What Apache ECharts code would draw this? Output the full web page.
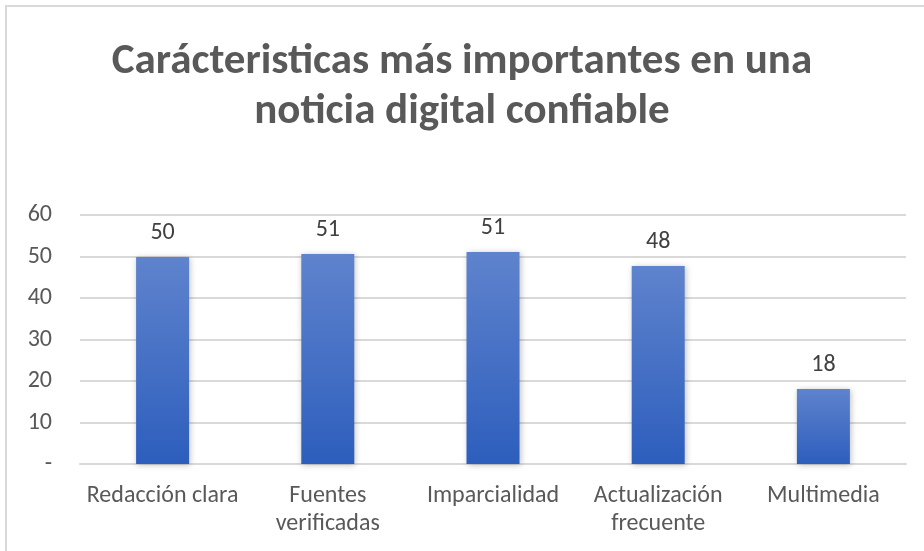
<!DOCTYPE html>
<html>
<head>
<meta charset="utf-8">
<script src="https://cdn.jsdelivr.net/npm/echarts@6/dist/echarts.min.js"></script>
<style>
  html, body { margin: 0; padding: 0; background: #fff; }
  #frame { position: absolute; left: 5px; top: 5px; width: 930px; height: 560px; border: 2px solid #d9d9d9; box-sizing: border-box; }
  #main { width: 924px; height: 551px; position: absolute; left: 0; top: 0; }
</style>
</head>
<body>
<div id="frame"></div>
<div id="main"></div>
<script>
var categories = ['Redacción clara', 'Fuentes\nverificadas', 'Imparcialidad', 'Actualización\nfrecuente', 'Multimedia'];
var values = [49.9, 50.6, 51.1, 47.7, 18.1];
var yTicks = [0, 10, 20, 30, 40, 50, 60];

var font = "Carlito, 'Liberation Sans Narrow', 'Open Sans', sans-serif";
var myChart = echarts.init(document.getElementById('main'));

var option = {
    animation: false,
    title: {
        text: 'Carácteristicas más importantes en una\nnoticia digital confiable',
        left: 'center',
        top: 32,
        textStyle: {
            fontFamily: font,
            fontSize: 43,
            fontWeight: 'bold',
            color: '#595959',
            lineHeight: 50
        }
    },
    grid: {
        left: 80,
        right: 18,
        top: 215,
        bottom: 87,
        containLabel: false
    },
    xAxis: {
        type: 'category',
        data: categories,
        axisLine: { lineStyle: { color: '#d9d9d9', width: 2 } },
        axisTick: { show: false },
        axisLabel: {
            color: '#595959',
            fontFamily: font,
            fontSize: 24,
            lineHeight: 28,
            margin: 18,
            interval: 0
        }
    },
    yAxis: {
        type: 'value',
        min: yTicks[0],
        max: yTicks[yTicks.length - 1],
        interval: 10,
        axisLine: { show: false },
        axisTick: { show: false },
        splitLine: { lineStyle: { color: '#d9d9d9', width: 2 } },
        axisLabel: {
            color: '#595959',
            fontFamily: font,
            fontSize: 24,
            margin: 28,
            formatter: function (v) { return v === 0 ? '-' : v; }
        }
    },
    series: [
        {
            type: 'bar',
            data: values,
            barWidth: 53,
            itemStyle: {
                color: new echarts.graphic.LinearGradient(0, 0, 0, 1, [
                    { offset: 0, color: '#5f83cd' },
                    { offset: 1, color: '#2d5ebd' }
                ]),
                shadowBlur: 6,
                shadowColor: 'rgba(0,0,0,0.25)',
                shadowOffsetX: 1,
                shadowOffsetY: 1
            },
            label: {
                show: true,
                position: 'top',
                distance: 12,
                color: '#404040',
                fontFamily: font,
                fontSize: 24,
                formatter: function (p) { return Math.round(p.value); }
            }
        }
    ]
};

myChart.setOption(option);
</script>
</body>
</html>
